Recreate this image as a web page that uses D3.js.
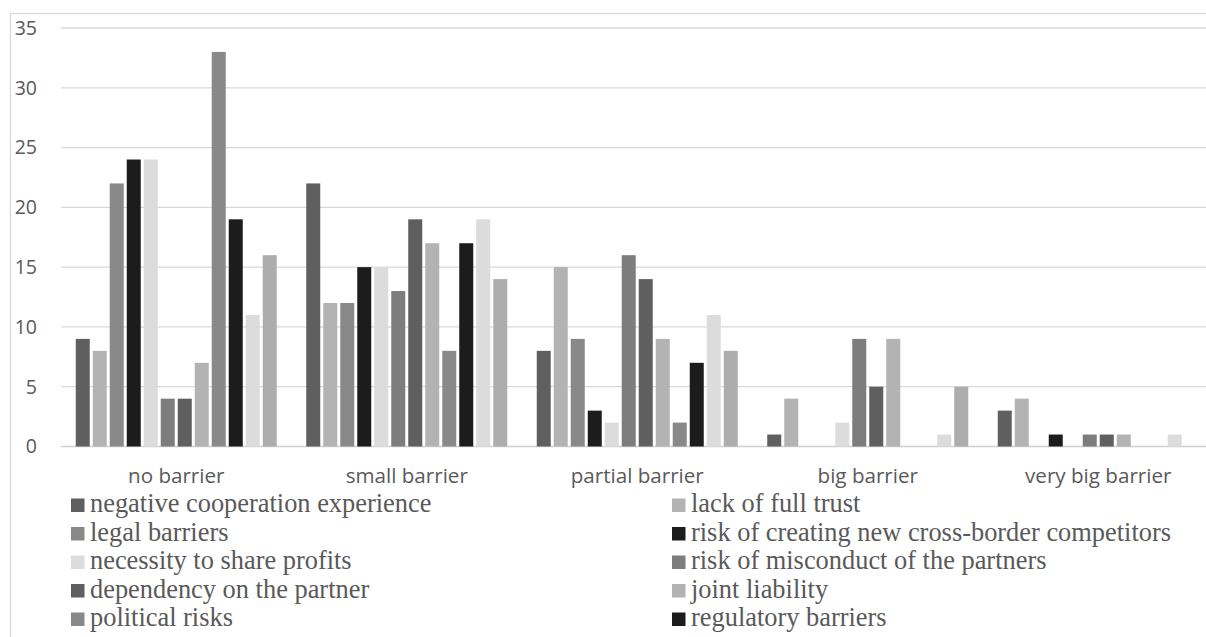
<!DOCTYPE html>
<html>
<head>
<meta charset="utf-8">
<script src="https://cdn.jsdelivr.net/npm/d3@7"></script>
<style>
  html, body { margin: 0; padding: 0; background: #fff; overflow: hidden; }
  svg { display: block; }
</style>
</head>
<body>
<div id="chart"></div>
<script>
// categories on the x axis
const categories = ["no barrier", "small barrier", "partial barrier", "big barrier", "very big barrier"];

// series names (last two are cut off in the picture)
const seriesNames = [
  "negative cooperation experience",
  "lack of full trust",
  "legal barriers",
  "risk of creating new cross-border competitors",
  "necessity to share profits",
  "risk of misconduct of the partners",
  "dependency on the partner",
  "joint liability",
  "political risks",
  "regulatory barriers",
  "series 11",
  "series 12"
];

const seriesColors = ["#5f5f5f", "#b3b3b3", "#898989", "#1c1c1c", "#dcdcdc", "#7d7d7d",
                      "#5f5f5f", "#b3b3b3", "#898989", "#1c1c1c", "#dcdcdc", "#adadad"];

// values per category, one per series
const noBarrier      = [9, 8, 22, 24, 24, 4, 4, 7, 33, 19, 11, 16];
const smallBarrier   = [22, 12, 12, 15, 15, 13, 19, 17, 8, 17, 19, 14];
const partialBarrier = [8, 15, 9, 3, 2, 16, 14, 9, 2, 7, 11, 8];
const bigBarrier     = [1, 4, 0, 0, 2, 9, 5, 9, 0, 0, 1, 5];
const veryBigBarrier = [3, 4, 0, 1, 0, 1, 1, 1, 0, 0, 1, 0];

const yTicks = [0, 5, 10, 15, 20, 25, 30, 35];

// only these show in the legend (rest is cropped away)
const legendCount = 10;

const values = [noBarrier, smallBarrier, partialBarrier, bigBarrier, veryBigBarrier];

const width = 1206, height = 637;
const plotLeft = 61, bandW = 230.5;

const svg = d3.select("#chart").append("svg")
  .attr("width", width)
  .attr("height", height);

// chart frame, runs off the right and bottom
svg.append("rect")
  .attr("x", 10.5).attr("y", 13.5)
  .attr("width", width + 20).attr("height", height + 20)
  .attr("fill", "none")
  .attr("stroke", "#d9d9d9")
  .attr("stroke-width", 1.3);

const x0 = d3.scaleBand()
  .domain(categories)
  .range([plotLeft, plotLeft + bandW * categories.length])
  .padding(0);

const x1 = d3.scaleBand()
  .domain(d3.range(seriesNames.length))
  .range([14.75, bandW - 14.75])
  .paddingInner(3 / 17)
  .paddingOuter(0);

const y = d3.scaleLinear()
  .domain([0, 35])
  .range([446.5, 28]);

// gridlines
svg.append("g")
  .selectAll("line")
  .data(yTicks)
  .join("line")
  .attr("x1", plotLeft)
  .attr("x2", width + 10)
  .attr("y1", d => y(d))
  .attr("y2", d => y(d))
  .attr("stroke", d => d === 0 ? "#d0d0d0" : "#d9d9d9")
  .attr("stroke-width", 1.3);

// y labels
svg.append("g")
  .selectAll("text")
  .data(yTicks)
  .join("text")
  .attr("x", 37)
  .attr("y", d => y(d))
  .attr("dy", "0.35em")
  .attr("text-anchor", "end")
  .attr("font-family", "'Open Sans', sans-serif")
  .attr("font-size", 19.5)
  .attr("fill", "#595959")
  .text(d => d);

// bars
const groups = svg.append("g")
  .selectAll("g")
  .data(categories)
  .join("g")
  .attr("transform", d => `translate(${x0(d)},0)`);

groups.selectAll("rect")
  .data((d, ci) => values[ci].map((v, si) => ({ v, si })))
  .join("rect")
  .attr("x", d => x1(d.si))
  .attr("width", x1.bandwidth())
  .attr("y", d => y(d.v))
  .attr("height", d => y(0) - y(d.v))
  .attr("fill", d => seriesColors[d.si]);

// category labels
svg.append("g")
  .selectAll("text")
  .data(categories)
  .join("text")
  .attr("x", d => x0(d) + x0.bandwidth() / 2)
  .attr("y", 482.5)
  .attr("text-anchor", "middle")
  .attr("font-family", "'Open Sans', sans-serif")
  .attr("font-size", 20.6)
  .attr("fill", "#595959")
  .text(d => d);

// legend, two columns
const legendCols = [71, 672];
const legendTop = 512, legendStep = 28.5, sq = 13.5;

const items = svg.append("g")
  .selectAll("g")
  .data(seriesNames.slice(0, legendCount))
  .join("g")
  .attr("transform", (d, i) =>
    `translate(${legendCols[i % 2]},${legendTop + Math.floor(i / 2) * legendStep})`);

items.append("rect")
  .attr("x", 0)
  .attr("y", -sq)
  .attr("width", sq)
  .attr("height", sq)
  .attr("fill", (d, i) => seriesColors[i]);

items.append("text")
  .attr("x", sq + 5.5)
  .attr("y", 0)
  .attr("font-family", "'Liberation Serif', 'Times New Roman', serif")
  .attr("font-size", 26.4)
  .attr("fill", "#595959")
  .text(d => d);
</script>
</body>
</html>
